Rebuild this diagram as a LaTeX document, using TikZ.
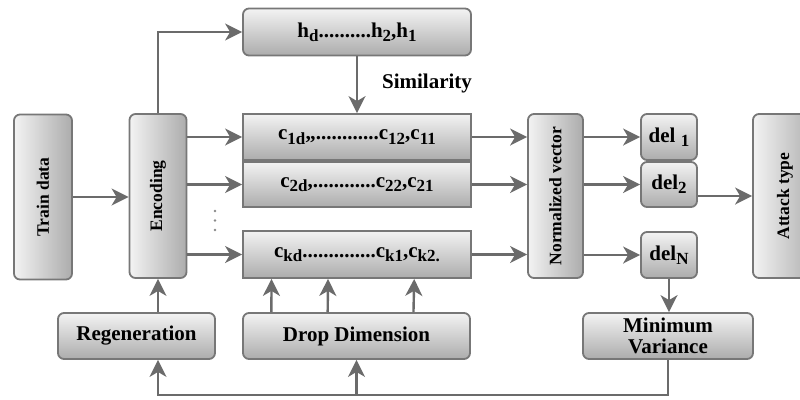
\documentclass[tikz,border=0pt]{standalone}
\usepackage{fontspec}
\setmainfont{Liberation Serif}
\usetikzlibrary{arrows.meta,calc}
\definecolor{edgec}{HTML}{777777}
\definecolor{lite}{HTML}{F3F3F3}
\definecolor{darkc}{HTML}{ACACAC}
\definecolor{arr}{HTML}{6B6B6B}
\newcommand\sbs[1]{\raisebox{-0.45ex}{\fontsize{17}{17}\selectfont #1}}
\newcommand\vtext[1]{\rotatebox{90}{\fontsize{17.5}{20}\selectfont #1}}
\begin{document}
\begin{tikzpicture}[x=1pt,y=-1pt,
  font=\fontsize{21}{24}\selectfont\bfseries,
  box/.style={draw=edgec, line width=1.8pt, rounded corners=6pt, top color=lite, bottom color=darkc, inner sep=0pt, align=center},
  sqbox/.style={box, rounded corners=0pt},
  vbox/.style={draw=edgec, line width=1.8pt, rounded corners=6pt, left color=lite, right color=darkc, inner sep=0pt},
  arrow/.style={draw=arr, line width=2.4pt, -{Stealth[length=17pt,width=17pt,inset=5pt]}}]
\useasboundingbox (0,0) rectangle (800,399);
\clip (0,0) rectangle (800,399);

% vertical boxes
\node[vbox, minimum width=58, minimum height=165] (train) at (43,197) {\vtext{Train data}};
\node[vbox, minimum width=57, minimum height=164] (enc) at (158,196) {\vtext{Encoding}};
\node[vbox, minimum width=55, minimum height=164] (norm) at (555.5,196) {\vtext{Normalized vector}};
\node[vbox, minimum width=64, minimum height=164] (att) at (785,196) {\vtext{Attack type}};

% h box and c boxes
\node[box, minimum width=228, minimum height=47] (h) at (357,32) {h\sbs{d}..........h\sbs{2},h\sbs{1}};
\node[sqbox, minimum width=228, minimum height=46] (c1) at (357,137) {c\sbs{1d},,............c\sbs{12},c\sbs{11}};
\node[sqbox, minimum width=228, minimum height=45] (c2) at (357,184.5) {c\sbs{2d},............c\sbs{22},c\sbs{21}};
\node[sqbox, minimum width=228, minimum height=47] (ck) at (357,254.5) {c\sbs{kd}..............c\sbs{k1},c\sbs{k2.}};

% del boxes
\node[box, minimum width=56, minimum height=46] (d1) at (669,137) {del \sbs{1}};
\node[box, minimum width=56, minimum height=45] (d2) at (669,184.5) {del\sbs{2}};
\node[box, minimum width=56, minimum height=46] (dn) at (669,255) {del\sbs{N}};

% bottom boxes
\node[box, minimum width=157, minimum height=46] (regen) at (136.5,336) {Regeneration};
\node[box, minimum width=227, minimum height=46] (drop) at (356.5,336) {Drop Dimension};
\node[box, minimum width=170, minimum height=46, font=\fontsize{21}{21}\selectfont\bfseries] (minv) at (668,336) {Minimum\\Variance};

\node (sim) at (427,83) {Similarity};

% vertical dots
\foreach \yy in {211,220.5,230} \fill[arr!80] (215,\yy) circle (1.4);

% connectors
\draw[arrow] (train.east |- 0,197) -- (enc.west |- 0,197);
\draw[arrow] (enc.north) |- (h.west);
\draw[arrow] (h.south) -- (c1.north);
\draw[arrow] (enc.east |- c1) -- (c1.west);
\draw[arrow] (enc.east |- c2) -- (c2.west);
\draw[arrow] (enc.east |- ck) -- (ck.west);
\draw[arrow] (c1.east) -- (c1.east -| norm.west);
\draw[arrow] (c2.east) -- (c2.east -| norm.west);
\draw[arrow] (ck.east) -- (ck.east -| norm.west);
\draw[arrow] (norm.east |- d1) -- (d1.west);
\draw[arrow] (norm.east |- d2) -- (d2.west);
\draw[arrow] (norm.east |- dn) -- (dn.west);
\draw[arrow] (d2.east |- att) -- (att.west);
\draw[arrow] (dn.south) -- (dn.south |- minv.north);
\draw[arrow] (enc.south |- regen.north) -- (enc.south);
\draw[arrow] ($(drop.north west)!0.128!(drop.north east)$) -- ($(ck.south west)!0.128!(ck.south east)$);
\draw[arrow] ($(drop.north west)!0.374!(drop.north east)$) -- ($(ck.south west)!0.374!(ck.south east)$);
\draw[arrow] ($(drop.north west)!0.749!(drop.north east)$) -- ($(ck.south west)!0.749!(ck.south east)$);
\coordinate (lb) at (158,395);
\draw[arrow] (minv.south) |- (lb) -- (lb |- regen.south);
\draw[arrow] (drop.south |- lb) -- (drop.south);
\end{tikzpicture}
\end{document}
